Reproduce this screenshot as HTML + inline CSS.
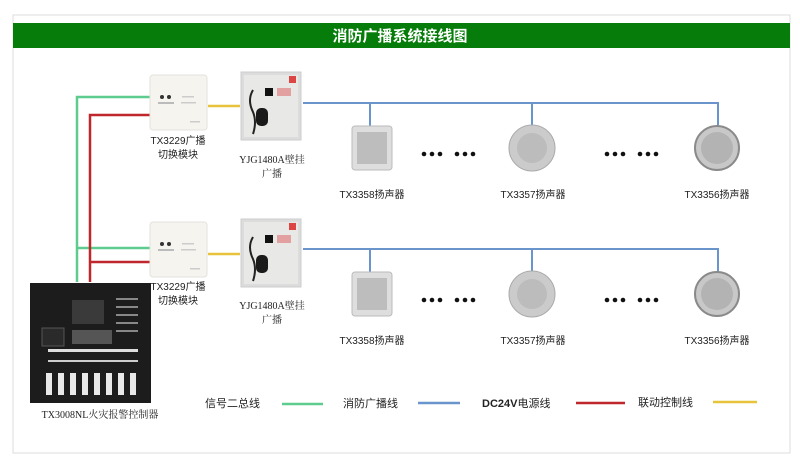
<!DOCTYPE html>
<html><head><meta charset="utf-8"><style>
html,body{margin:0;padding:0;background:#fff;}
svg{display:block;font-family:"Liberation Sans","Noto Sans CJK SC",sans-serif;}
</style></head><body>
<svg width="800" height="467" viewBox="0 0 800 467" xmlns="http://www.w3.org/2000/svg">
<defs>
<g id="module">
 <rect x="0" y="0" width="57" height="55" rx="3" fill="#f6f4ee" stroke="#e4e2dc"/>
 <circle cx="12" cy="22" r="2" fill="#333"/><circle cx="19" cy="22" r="2" fill="#333"/>
 <rect x="8" y="27" width="16" height="2" fill="#bbb"/>
 <rect x="32" y="21" width="12" height="1.5" fill="#ccc"/><rect x="31" y="27" width="15" height="1.5" fill="#ccc"/>
 <rect x="40" y="46" width="10" height="1.5" fill="#ccc"/>
</g>
<g id="panel">
 <rect x="0" y="0" width="60" height="68" fill="#dcdcdc" stroke="#ccc"/>
 <rect x="3" y="3" width="54" height="62" fill="#e8e8e6"/>
 <rect x="48" y="4" width="7" height="7" fill="#d44"/>
 <rect x="24" y="16" width="8" height="8" fill="#111"/>
 <rect x="36" y="16" width="14" height="8" fill="#e2a0a0"/>
 <path d="M12 18 q-6 10 0 22 q4 10 0 22" stroke="#222" stroke-width="2" fill="none"/>
 <rect x="15" y="36" width="12" height="18" rx="5" fill="#1a1a1a"/>
</g>
</defs>
<rect x="13" y="15" width="777" height="438" fill="#fff" stroke="#ddd"/>
<rect x="13" y="23" width="777" height="25" fill="#067d0a"/>
<text x="400" y="41" font-size="15" font-weight="bold" fill="#fff" text-anchor="middle">消防广播系统接线图</text>

<g fill="none" stroke-width="2.5">
 <path d="M77 282 V97 H150 M77 248 H150" stroke="#5ecb8f"/>
 <path d="M90 282 V115 H150 M90 262 H150" stroke="#c0272d"/>
 <path d="M208 106 H240 M208 254 H240" stroke="#e8c43c"/>
</g>
<g fill="none" stroke="#6a95cc" stroke-width="2">
 <path d="M303 103 H718 V126 M370 103 V126 M532 103 V126"/>
 <path d="M303 249 H718 V272 M370 249 V272 M532 249 V272"/>
</g>

<use href="#module" x="150" y="75"/>
<use href="#module" x="150" y="222"/>
<use href="#panel" x="241" y="72"/>
<use href="#panel" x="241" y="219"/>

<g id="spk">
 <rect x="352" y="126" width="40" height="44" rx="3" fill="#dedede" stroke="#bbb"/>
 <rect x="357" y="132" width="30" height="32" fill="#bdbdbd"/>
 <circle cx="532" cy="148" r="23" fill="#cbcbcb" stroke="#aaa"/>
 <circle cx="532" cy="148" r="15" fill="#bcbcbc"/>
 <circle cx="717" cy="148" r="22" fill="#c8c8c8" stroke="#8a8a8a" stroke-width="2"/>
 <circle cx="717" cy="148" r="16" fill="#b3b3b3"/>
 <g fill="#111">
  <circle cx="424" cy="154" r="2.3"/><circle cx="432" cy="154" r="2.3"/><circle cx="440" cy="154" r="2.3"/>
  <circle cx="457" cy="154" r="2.3"/><circle cx="465" cy="154" r="2.3"/><circle cx="473" cy="154" r="2.3"/>
  <circle cx="607" cy="154" r="2.3"/><circle cx="615" cy="154" r="2.3"/><circle cx="623" cy="154" r="2.3"/>
  <circle cx="640" cy="154" r="2.3"/><circle cx="648" cy="154" r="2.3"/><circle cx="656" cy="154" r="2.3"/>
 </g>
 <g font-size="10" fill="#222" text-anchor="middle">
  <text x="372" y="198">TX3358扬声器</text>
  <text x="533" y="198">TX3357扬声器</text>
  <text x="717" y="198">TX3356扬声器</text>
 </g>
</g>
<use href="#spk" x="0" y="146"/>

<g font-size="10" fill="#222" text-anchor="middle">
 <text x="178" y="144">TX3229广播</text><text x="178" y="158">切换模块</text>
 <text x="178" y="290">TX3229广播</text><text x="178" y="304">切换模块</text>
 <text x="272" y="163" font-family="Liberation Serif,Noto Serif CJK SC,serif">YJG1480A壁挂</text><text x="272" y="177" font-family="Liberation Serif,Noto Serif CJK SC,serif">广播</text>
 <text x="272" y="309" font-family="Liberation Serif,Noto Serif CJK SC,serif">YJG1480A壁挂</text><text x="272" y="323" font-family="Liberation Serif,Noto Serif CJK SC,serif">广播</text>
 <text x="100" y="418" font-family="Liberation Serif,Noto Serif CJK SC,serif">TX3008NL火灾报警控制器</text>
</g>

<rect x="30" y="283" width="121" height="120" fill="#1c1c1c"/>
<rect x="72" y="300" width="32" height="24" fill="#3a3a3a"/>
<rect x="42" y="328" width="22" height="18" fill="#2a2a2a" stroke="#555"/>
<rect x="72" y="330" width="40" height="14" fill="#555"/>
<g fill="#888"><rect x="116" y="298" width="22" height="2"/><rect x="116" y="306" width="22" height="2"/><rect x="116" y="314" width="22" height="2"/><rect x="116" y="322" width="22" height="2"/><rect x="116" y="330" width="22" height="2"/></g>
<rect x="48" y="349" width="90" height="3" fill="#ddd"/>
<rect x="48" y="360" width="90" height="2" fill="#ccc"/>
<g fill="#e8e8e8">
 <rect x="46" y="373" width="6" height="22"/><rect x="58" y="373" width="6" height="22"/><rect x="70" y="373" width="6" height="22"/><rect x="82" y="373" width="6" height="22"/>
 <rect x="94" y="373" width="6" height="22"/><rect x="106" y="373" width="6" height="22"/><rect x="118" y="373" width="6" height="22"/><rect x="130" y="373" width="6" height="22"/>
</g>

<g font-size="11" fill="#222">
 <text x="205" y="407">信号二总线</text>
 <text x="343" y="407">消防广播线</text>
 <text x="482" y="407" font-weight="bold">DC24V<tspan font-weight="normal">电源线</tspan></text>
 <text x="638" y="406">联动控制线</text>
</g>
<g stroke-width="2.5">
 <line x1="282" y1="404" x2="323" y2="404" stroke="#5ecb8f"/>
 <line x1="418" y1="403" x2="460" y2="403" stroke="#6a95cc"/>
 <line x1="576" y1="403" x2="625" y2="403" stroke="#c0272d"/>
 <line x1="713" y1="402" x2="757" y2="402" stroke="#e8c43c"/>
</g>
</svg>
</body></html>
